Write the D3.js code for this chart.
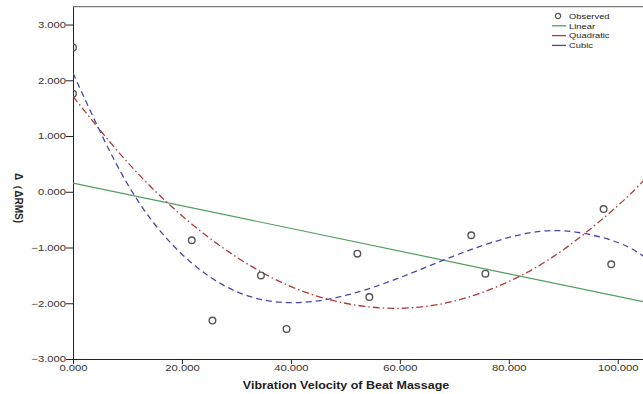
<!DOCTYPE html>
<html>
<head>
<meta charset="utf-8">
<script src="https://cdn.jsdelivr.net/npm/d3@7"></script>
<style>
  body { margin: 0; background: #fff; }
  svg { display: block; }
  text { font-family: Arial, "Liberation Sans", sans-serif; }
</style>
</head>
<body>
<script>
  // observed points
  var obsX = [0, 0, 21.8, 25.6, 34.5, 39.2, 52.2, 54.4, 73.1, 75.7, 97.4, 98.8];
  var obsY = [2.59, 1.76, -0.87, -2.31, -1.50, -2.46, -1.11, -1.89, -0.78, -1.47, -0.31, -1.30];

  // fitted curves
  var linX = [0, 105];
  var linY = [0.156, -1.98];
  var fitX = [0, 10, 20, 30, 40, 50, 60, 70, 80, 90, 100, 105];
  var quadY = [1.71, 0.53, -0.43, -1.17, -1.70, -2.00, -2.09, -1.96, -1.61, -1.04, -0.25, 0.23];
  var cubicY = [2.13, 0.14, -1.12, -1.79, -1.99, -1.86, -1.54, -1.15, -0.82, -0.70, -0.91, -1.18];

  var xTicks = [0, 20, 40, 60, 80, 100];
  var yTicks = [-3, -2, -1, 0, 1, 2, 3];
  var legendNames = ["Observed", "Linear", "Quadratic", "Cubic"];
  var legendColors = ["#555", "#4f9e5e", "#b03a3a", "#4848a8"];

(function() {
  'use strict';

  var W = 643, H = 394;
  var pL = 73, pR = 645, pT = 6.7, pB = 359;
  var sx = 1.25; // text looks horizontally stretched

  var x = d3.scaleLinear().domain([0, 105]).range([pL, pR]);
  var y = d3.scaleLinear().domain([-3, 3.32]).range([pB, pT]);

  var svg = d3.select("body").append("svg")
      .attr("width", W)
      .attr("height", H);

  svg.append("defs").append("clipPath")
      .attr("id", "plot")
    .append("rect")
      .attr("x", pL)
      .attr("y", pT)
      .attr("width", pR - pL)
      .attr("height", pB - pT);

  // top frame
  svg.append("line")
      .attr("x1", pL).attr("x2", pR)
      .attr("y1", pT).attr("y2", pT)
      .style("stroke", "#555")
      .style("stroke-width", 1);

  var fmt = d3.format(".3f");

  var xAxis = svg.append("g")
      .attr("transform", "translate(0," + pB + ")")
      .call(d3.axisBottom(x).tickValues(xTicks).tickFormat(fmt).tickSize(5).tickSizeOuter(0));
  xAxis.selectAll("text")
      .attr("y", 6)
      .style("font-size", "9px")
      .style("fill", "#333")
      .attr("transform", "scale(" + sx + ",1)");

  var yAxis = svg.append("g")
      .attr("transform", "translate(" + pL + ",0)")
      .call(d3.axisLeft(y).tickValues(yTicks).tickFormat(fmt).tickSize(7).tickSizeOuter(0));
  yAxis.selectAll("text")
      .attr("x", -7 / sx)
      .style("font-size", "9px")
      .style("fill", "#333")
      .attr("transform", "scale(" + sx + ",1)");

  svg.selectAll(".domain, .tick line")
      .style("stroke", "#222")
      .style("stroke-width", 1);

  var plot = svg.append("g").attr("clip-path", "url(#plot)");

  var line = d3.line()
      .x(function(d) { return x(d[0]); })
      .y(function(d) { return y(d[1]); });

  plot.append("path")
      .datum(d3.zip(linX, linY))
      .attr("d", line)
      .style("fill", "none")
      .style("stroke", legendColors[1])
      .style("stroke-width", 1.2);

  var smooth = d3.line()
      .x(function(d) { return x(d[0]); })
      .y(function(d) { return y(d[1]); })
      .curve(d3.curveNatural);

  plot.append("path")
      .datum(d3.zip(fitX, quadY))
      .attr("d", smooth)
      .style("fill", "none")
      .style("stroke", legendColors[2])
      .style("stroke-width", 1.3)
      .style("stroke-dasharray", "7,3,1.5,3");

  plot.append("path")
      .datum(d3.zip(fitX, cubicY))
      .attr("d", smooth)
      .style("fill", "none")
      .style("stroke", legendColors[3])
      .style("stroke-width", 1.3)
      .style("stroke-dasharray", "6,4");

  plot.selectAll("circle")
      .data(d3.zip(obsX, obsY))
    .enter().append("circle")
      .attr("cx", function(d) { return x(d[0]); })
      .attr("cy", function(d) { return y(d[1]); })
      .attr("r", 3.3)
      .style("fill", "none")
      .style("stroke", "#555")
      .style("stroke-width", 1.4);

  // axis titles
  svg.append("text")
      .attr("transform", "translate(346,389) scale(" + sx + ",1)")
      .attr("text-anchor", "middle")
      .style("font-size", "10px")
      .style("font-weight", "bold")
      .style("fill", "#222")
      .text("Vibration Velocity of Beat Massage");

  svg.append("text")
      .attr("transform", "translate(15,198) rotate(90)")
      .attr("text-anchor", "middle")
      .style("font-size", "10px")
      .style("font-weight", "bold")
      .style("fill", "#222")
      .text("Δ（ΔRMS)");

  // legend
  var lg = svg.append("g").attr("transform", "translate(552,16)");
  var item = lg.selectAll("g")
      .data(legendNames)
    .enter().append("g")
      .attr("transform", function(d, i) { return "translate(0," + (i * 9.8) + ")"; });
  item.each(function(d, i) {
    var g = d3.select(this);
    if (i === 0) {
      g.append("circle")
          .attr("cx", 6).attr("r", 2.6)
          .style("fill", "none")
          .style("stroke", "#555")
          .style("stroke-width", 1.3);
    } else {
      g.append("line")
          .attr("x1", 0).attr("x2", 14)
          .style("stroke", legendColors[i])
          .style("stroke-width", 1.3);
    }
  });
  item.append("text")
      .attr("transform", "translate(17,2.8) scale(" + sx + ",1)")
      .style("font-size", "7.5px")
      .style("fill", "#222")
      .text(function(d) { return d; });

})();
</script>
</body>
</html>
